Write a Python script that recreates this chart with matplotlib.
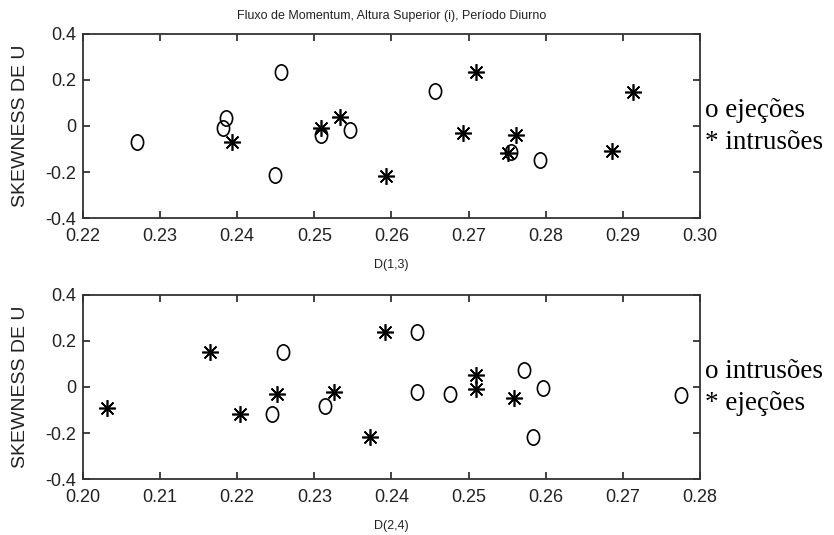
import matplotlib
matplotlib.use("Agg")
import matplotlib.pyplot as plt
from matplotlib.path import Path
from matplotlib.transforms import Affine2D

plt.rcParams['font.family'] = ['Liberation Sans', 'DejaVu Sans']

title = "Fluxo de Momentum, Altura Superior (i), Período Diurno"
ylabel = "SKEWNESS DE U"

# Top panel: D(1,3)
top_xlabel = "D(1,3)"
top_circ_x = [0.2270, 0.2382, 0.2385, 0.2457, 0.2449, 0.2509, 0.2546, 0.2656, 0.2755, 0.2793]
top_circ_y = [-0.068, -0.010, 0.033, 0.235, -0.213, -0.039, -0.017, 0.150, -0.112, -0.148]
top_star_x = [0.2393, 0.2509, 0.2533, 0.2593, 0.2710, 0.2693, 0.2762, 0.2751, 0.2886, 0.2913]
top_star_y = [-0.068, -0.010, 0.038, -0.217, 0.235, -0.029, -0.039, -0.119, -0.107, 0.149]
top_xticks = [0.22, 0.23, 0.24, 0.25, 0.26, 0.27, 0.28, 0.29, 0.30]
top_legend = ["o ejeções", "* intrusões"]

# Bottom panel: D(2,4)
bot_xlabel = "D(2,4)"
bot_star_x = [0.2031, 0.2165, 0.2204, 0.2251, 0.2325, 0.2372, 0.2392, 0.2510, 0.2510, 0.2559]
bot_star_y = [-0.093, 0.151, -0.115, -0.029, -0.022, -0.216, 0.237, 0.050, -0.007, -0.050]
bot_circ_x = [0.2245, 0.2259, 0.2314, 0.2433, 0.2433, 0.2476, 0.2572, 0.2596, 0.2584, 0.2776]
bot_circ_y = [-0.115, 0.151, -0.083, 0.237, -0.022, -0.029, 0.075, -0.003, -0.216, -0.036]
bot_xticks = [0.20, 0.21, 0.22, 0.23, 0.24, 0.25, 0.26, 0.27, 0.28]
bot_legend = ["o intrusões", "* ejeções"]

yticks = [-0.4, -0.2, 0, 0.2, 0.4]
ytick_labels = ["-0.4", "-0.2", "0", "0.2", "0.4"]

ellipse = Path.unit_circle().transformed(Affine2D().scale(0.8, 1.0))

fig = plt.figure(figsize=(8.34, 5.35), dpi=100)
ax1 = fig.add_axes([0.0995, 0.5925, 0.7398, 0.3440])
ax2 = fig.add_axes([0.0995, 0.1040, 0.7398, 0.3455])

def style(ax, xticks, xlabel):
    ax.set_xlim(xticks[0], xticks[-1])
    ax.set_ylim(-0.4, 0.4)
    ax.set_xticks(xticks)
    ax.set_xticklabels([f"{t:.2f}" for t in xticks])
    ax.set_yticks(yticks)
    ax.set_yticklabels(ytick_labels)
    ax.tick_params(direction='in', top=True, right=True, length=5, width=1.2,
                   labelsize=13, colors='#222222', labelcolor='#222222')
    ax.tick_params(axis='x', pad=7)
    ax.tick_params(axis='y', pad=5)
    for s in ax.spines.values():
        s.set_linewidth(1.3)
        s.set_color('#333333')
    ax.set_xlabel(xlabel, fontsize=9, labelpad=10, color='#222222')
    ax.set_ylabel(ylabel, fontsize=14, color='#222222')
    ax.yaxis.set_label_coords(-0.088, 0.5)

ax1.plot(top_circ_x, top_circ_y, linestyle='none', marker=ellipse, markersize=11,
         markerfacecolor='none', markeredgecolor='black', markeredgewidth=1.2)
ax1.plot(top_star_x, top_star_y, linestyle='none', marker=(8, 2, 0), markersize=12,
         markeredgecolor='black', markeredgewidth=1.2)
style(ax1, top_xticks, top_xlabel)
ax1.set_title(title, fontsize=9, pad=11, color='#222222')

ax2.plot(bot_star_x, bot_star_y, linestyle='none', marker=(8, 2, 0), markersize=12,
         markeredgecolor='black', markeredgewidth=1.2)
ax2.plot(bot_circ_x, bot_circ_y, linestyle='none', marker=ellipse, markersize=11,
         markerfacecolor='none', markeredgecolor='black', markeredgewidth=1.2)
style(ax2, bot_xticks, bot_xlabel)

for ax, lines in ((ax1, top_legend), (ax2, bot_legend)):
    ax.text(1.008, 0.585, lines[0], transform=ax.transAxes, fontsize=19.5,
            family='Liberation Serif', va='center', ha='left')
    ax.text(1.008, 0.41, lines[1], transform=ax.transAxes, fontsize=19.5,
            family='Liberation Serif', va='center', ha='left')

fig.savefig("out.png", dpi=100)
